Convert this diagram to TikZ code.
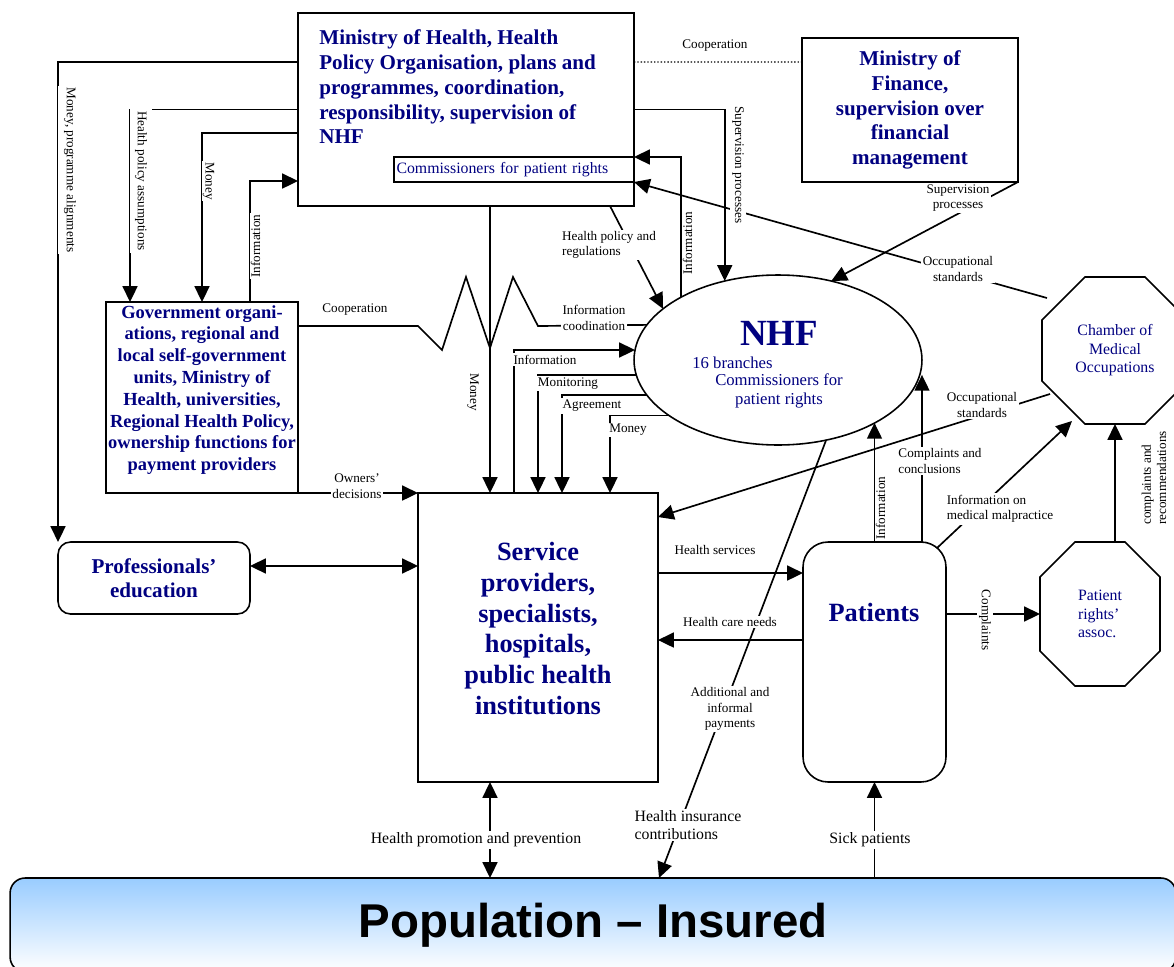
\documentclass[tikz,border=0pt]{standalone}
\usepackage{fontspec}
\setmainfont{Liberation Serif}
\newfontfamily\popfont{Liberation Sans}
\usepackage{tikz}
\usetikzlibrary{arrows.meta, shapes.geometric}
\definecolor{navytxt}{RGB}{0, 0, 128}
\definecolor{popblue}{RGB}{153, 204, 255}

\begin{document}
\begin{tikzpicture}[x=0.02cm, y=-0.02cm,
    box/.style={draw, line width=1.1pt, inner sep=0pt, outer sep=0pt},
    boxtxt/.style={inner sep=0pt, text=navytxt, align=center},
    conn/.style={line width=0.95pt},
    arr/.style={conn, -{Triangle[length=9pt, width=8.5pt]}},
    dblarr/.style={conn, {Triangle[length=9pt, width=8.5pt]}-{Triangle[length=9pt, width=8.5pt]}},
    lbl/.style={fill=white, inner sep=1pt, align=center, font=\fontsize{7.5}{8.8}\selectfont},
    biglbl/.style={fill=white, inner sep=1pt, align=center, font=\fontsize{9}{10.4}\selectfont}]
    \useasboundingbox (0,0) rectangle (1174,967);

    % ministries
    \node[box] (moh) at (466,109.5) [minimum width=6.72cm, minimum height=3.86cm] {};
    \node[boxtxt, anchor=north west, align=left, font=\bfseries\fontsize{12}{14.2}\selectfont] (mohtxt) at (319,29)
        {Ministry of Health, Health\\Policy Organisation, plans and\\programmes, coordination,\\responsibility, supervision of\\NHF};
    \node[box, line width=0.9pt, inner sep=1pt, minimum width=4.8cm, minimum height=0.5cm, text width=4.7cm, align=left, text=navytxt, font=\fontsize{9}{10}\selectfont] (comm) at (514,169.5) {Commissioners for patient rights};
    \node[box, minimum width=4.32cm, minimum height=2.88cm, boxtxt, font=\bfseries\fontsize{12}{14}\selectfont] (mof) at (910,110)
        {Ministry of\\Finance,\\supervision over\\financial\\management};

    % left side
    \node[box, minimum width=3.84cm, minimum height=3.82cm] (gov) at (202,397.5) {};
    \node[boxtxt, font=\bfseries\fontsize{10.5}{12.4}\selectfont] (govtxt) at (202,390)
        {Government organi-\\ations, regional and\\local self-government\\units, Ministry of\\Health, universities,\\Regional Health Policy,\\ownership functions for\\payment providers};
    \node[box, line width=0.9pt, rounded corners=0.25cm, minimum width=3.84cm, minimum height=1.44cm, boxtxt, font=\bfseries\fontsize{12}{14}\selectfont] (prof) at (154,578) {Professionals’\\education};

    % service providers and patients
    \node[box, minimum width=4.8cm, minimum height=5.78cm] (sp) at (538,637.5) {};
    \node[boxtxt, font=\bfseries\fontsize{15}{17.5}\selectfont] (sptxt) at (538,628.5)
        {Service\\providers,\\specialists,\\hospitals,\\public health\\institutions};
    \node[box, line width=0.9pt, rounded corners=0.5cm, minimum width=2.86cm, minimum height=4.8cm] (pat) at (874.5,662) {};
    \node[boxtxt, font=\bfseries\fontsize{15}{17.5}\selectfont] (pattxt) at (874,612) {Patients};

    % NHF
    \node[draw, ellipse, line width=0.9pt, minimum width=5.76cm, minimum height=3.4cm, inner sep=0pt, outer sep=0pt] (nhf) at (778,360) {};
    \node[boxtxt, font=\bfseries\fontsize{21}{24}\selectfont] (nhfttl) at (779,333) {NHF};
    \node[boxtxt, anchor=west, font=\fontsize{9.5}{10.8}\selectfont] (nhfbr) at (692,363) {16 branches};
    \node[boxtxt, font=\fontsize{9.5}{10.8}\selectfont] (nhfcom) at (779,391) {Commissioners for\\patient rights};

    % octagons
    \node[boxtxt, outer sep=0pt, minimum width=2.92cm, minimum height=2.94cm, font=\fontsize{9}{10.5}\selectfont] (cmo) at (1115,350.5) {Chamber of\\Medical\\Occupations};
    \node[boxtxt, outer sep=0pt, minimum width=2.4cm, minimum height=2.88cm, align=left, font=\fontsize{9}{10.5}\selectfont] (pra) at (1100,614) {Patient\\rights’\\assoc.};
    \foreach \n/\c in {cmo/43, pra/35}
        \draw[line width=0.9pt] ([shift={(\c,0)}]\n.north west) -- ([shift={(-\c,0)}]\n.north east)
            -- ([shift={(0,\c)}]\n.north east) -- ([shift={(0,-\c)}]\n.south east)
            -- ([shift={(-\c,0)}]\n.south east) -- ([shift={(\c,0)}]\n.south west)
            -- ([shift={(0,-\c)}]\n.south west) -- ([shift={(0,\c)}]\n.north west) -- cycle;

    % population
    \node[draw, line width=0.9pt, rounded corners=0.3cm, top color=popblue, bottom color=white, inner sep=0pt, outer sep=0pt,
        minimum width=23.32cm, minimum height=1.88cm, font=\popfont\bfseries\fontsize{27}{32}\selectfont] (pop) at (593,925) {Population – Insured};

    % ministry of health to the left
    \draw[arr] ([shift={(0,49)}]moh.north west) -| (prof.north west);
    \draw[arr] (moh.west) -| ([shift={(24,0)}]gov.north west);
    \draw[arr] ([shift={(0,120)}]moh.north west) -| (gov.north);
    \draw[arr] ([shift={(-48,0)}]gov.north east) |- ([shift={(0,168)}]moh.north west);
    \draw[line width=0.8pt, dash pattern=on 0.8pt off 1.1pt] ([shift={(0,49)}]moh.north east) -- ([shift={(0,24)}]mof.north west);

    % ministries to NHF
    \draw[arr] (moh.east) -| (nhf.124);
    \draw[arr] ([shift={(144,0)}]moh.south) -- (nhf.156);
    \draw[arr] (nhf.147) |- (comm.north east);
    \draw[arr] ([shift={(24,0)}]moh.south) -- ([shift={(-48,0)}]sp.north);
    \draw[arr] (mof.south east) -- (nhf.56);

    % chamber of medical occupations
    \draw[arr] ([shift={(5,21)}]cmo.north west) -- (comm.south east);
    \draw[arr] ([shift={(8,-30)}]cmo.south west) -- ([shift={(0,24)}]sp.north east);
    \draw[arr] (cmo.south |- pra.north) -- (cmo.south);

    % cooperation zigzag
    \draw[conn] ([shift={(0,24)}]gov.north east) -- ++(120,0) -- ++(24,24) -- ++(24,-73)
        -- ++(24,71) -- ++(23,-71) -- ++(25,49) -- (nhf.165);

    % NHF to service providers
    \draw[arr] ([shift={(-24,0)}]sp.north) |- (nhf.176);
    \draw[arr] (nhf.186) -| (sp.north);
    \draw[arr] (nhf.195) -| ([shift={(24,0)}]sp.north);
    \draw[arr] (nhf.207) -| ([shift={(72,0)}]sp.north);

    % owners, education
    \draw[arr] (gov.south east) -- (sp.north west);
    \draw[dblarr] ([shift={(0,-12)}]prof.east) -- ([shift={(0,-71.5)}]sp.west);

    % service providers and patients
    \draw[arr] (nhf.301) -- ([shift={(66,0)}]pop.north);
    \draw[arr] ([shift={(0,80)}]sp.north east) -- ([shift={(0,31)}]pat.north west);
    \draw[arr] ([shift={(0,98)}]pat.north west) -- ([shift={(0,147)}]sp.north east);
    \draw[arr] (pat.east |- pra.west) -- (pra.west);
    \draw[arr] (pat.north) -- (pat.north |- nhf.327);
    \draw[arr] ([shift={(-24,0)}]pat.north east) coordinate (cc) -- (cc |- nhf.354);
    \draw[arr] ([shift={(-9,6)}]pat.north east) -- ([shift={(30,-3)}]cmo.south west);

    % population
    \draw[dblarr] ([shift={(-48,0)}]sp.south) coordinate (hp) -- (hp |- pop.north);
    \draw[arr] (pat.south |- pop.north) -- (pat.south);

    % labels
    \node[lbl] (lcoop1) at (715,46) {Cooperation};
    \node[lbl] (lcoop2) at (355,310) {Cooperation};
    \node[lbl] (linfoco) at (594,318) {Information\\coodination};
    \node[lbl, rotate=-90, anchor=south, inner ysep=3.5pt] (lmpa) at (57.5,170) {Money, programme alignments};
    \node[lbl, rotate=-90, anchor=south, inner ysep=3pt] (lhpa) at (129.5,181) {Health policy assumptions};
    \node[lbl, rotate=-90, anchor=south, inner ysep=0.5pt] (lmon1) at (201.5,181) {Money};
    \node[lbl, rotate=90, anchor=north, inner ysep=0.5pt] (linf1) at (249.5,246) {Information};
    \node[lbl, rotate=-90] (lmon2) at (473,392) {Money};
    \node[lbl, rotate=-90] (lsup1) at (738,165) {Supervision processes};
    \node[lbl, rotate=90, anchor=north, inner ysep=0.5pt] (linf2) at (681.5,243) {Information};
    \node[lbl, align=left] (lhpr) at (609,245) {Health policy and\\regulations};
    \node[lbl] (lsup2) at (958,198) {Supervision\\processes};
    \node[lbl] (locc1) at (958,269) {Occupational\\standards};
    \node[lbl] (locc2) at (982,405) {Occupational\\standards};
    \node[lbl] (linf4) at (545,359.5) {Information};
    \node[lbl] (lmoni) at (568,383.5) {Monitoring};
    \node[lbl] (lagr) at (592,406) {Agreement};
    \node[lbl] (lmon3) at (628,430) {Money};
    \node[lbl] (lown) at (357,486) {Owners’\\decisions};
    \node[lbl] (lhs) at (715,550) {Health services};
    \node[lbl] (lhcn) at (730,622) {Health care needs};
    \node[lbl] (lacp) at (730,709) {Additional and\\informal\\payments};
    \node[lbl, align=left] (lcc) at (940,461) {Complaints and\\conclusions};
    \node[lbl, align=left] (limm) at (1000,509) {Information on\\medical malpractice};
    \node[lbl, rotate=90, anchor=north, inner ysep=0.5pt] (linf3) at (874.5,508) {Information};
    \node[lbl, rotate=-90] (lcompl) at (985,620) {Complaints};
    \node[lbl, rotate=90, align=left] (lcr) at (1154,478) {complaints and\\recommendations};
    \node[biglbl] (lhpp) at (476,840) {Health promotion and prevention};
    \node[biglbl, align=left] (lhic) at (688,825) {Health insurance\\contributions};
    \node[biglbl] (lsick) at (870,840) {Sick patients};
\end{tikzpicture}
\end{document}
